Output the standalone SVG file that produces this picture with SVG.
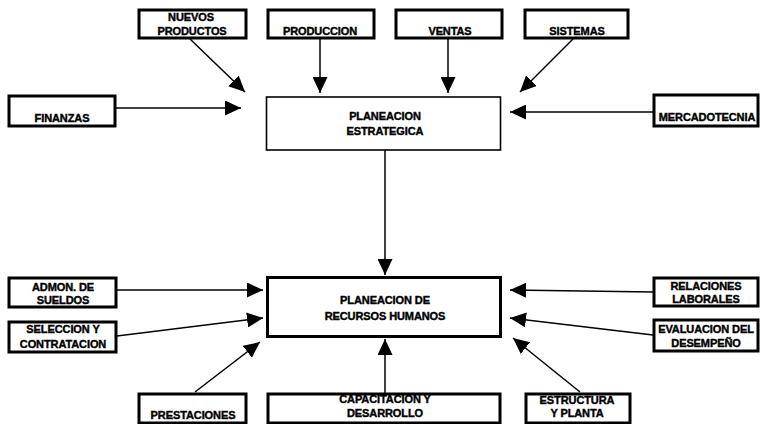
<svg xmlns="http://www.w3.org/2000/svg" width="760" height="424" viewBox="0 0 760 424">
<defs>
<style>
.bx{fill:#fff;stroke:#000;stroke-width:3}
.bxt{fill:#fff;stroke:#000;stroke-width:1.6}
.t{font-family:"Liberation Sans",Arial,Helvetica,sans-serif;font-weight:bold;font-size:11px;text-anchor:middle;fill:#000;stroke:#000;stroke-width:0.4px;letter-spacing:-0.1px}
.c{stroke:#000;stroke-width:1.5;fill:none;marker-end:url(#ah)}
</style>
<marker id="ah" markerUnits="userSpaceOnUse" markerWidth="17" markerHeight="15" refX="16" refY="7.5" orient="auto">
<path d="M0,0 L16,7.5 L0,15 z" fill="#000"/>
</marker>
</defs>
<rect width="760" height="424" fill="#fff"/>
<g id="connectors">
<line class="c" x1="190" y1="39" x2="245" y2="92"/>
<line class="c" x1="320" y1="39" x2="320" y2="93"/>
<line class="c" x1="448" y1="39" x2="448" y2="93"/>
<line class="c" x1="573" y1="39" x2="520" y2="92"/>
<line class="c" x1="116" y1="108" x2="241" y2="108"/>
<line class="c" x1="653" y1="112" x2="510" y2="112"/>
<line class="c" x1="385" y1="150" x2="385" y2="275"/>
<line class="c" x1="117" y1="290" x2="263" y2="290"/>
<line class="c" x1="117" y1="336" x2="263" y2="318"/>
<line class="c" x1="195" y1="392" x2="260" y2="342"/>
<line class="c" x1="385" y1="393" x2="385" y2="339"/>
<line class="c" x1="580" y1="392" x2="513" y2="338"/>
<line class="c" x1="653" y1="292" x2="510" y2="290"/>
<line class="c" x1="653" y1="335" x2="510" y2="318"/>
</g>
<g id="nuevos-productos"><rect class="bx" x="139" y="10" width="107" height="28"/><text class="t" x="191" y="21">NUEVOS</text><text class="t" x="192" y="35">PRODUCTOS</text></g>
<g id="produccion"><rect class="bx" x="268" y="10" width="106" height="28"/><text class="t" x="320" y="35">PRODUCCION</text></g>
<g id="ventas"><rect class="bx" x="396" y="10" width="106" height="28"/><text class="t" x="450" y="35">VENTAS</text></g>
<g id="sistemas"><rect class="bx" x="525" y="10" width="103" height="28"/><text class="t" x="577" y="35">SISTEMAS</text></g>
<g id="finanzas"><rect class="bx" x="9" y="96" width="106" height="30"/><text class="t" x="62" y="122">FINANZAS</text></g>
<g id="mercadotecnia"><rect class="bx" x="654" y="95" width="104" height="31"/><text class="t" x="707" y="121">MERCADOTECNIA</text></g>
<g id="planeacion-estrategica"><rect class="bxt" x="266.5" y="97" width="234" height="53"/><text class="t" x="385" y="120">PLANEACION</text><text class="t" x="385" y="135">ESTRATEGICA</text></g>
<g id="admon-sueldos"><rect class="bx" x="9" y="278" width="107" height="29"/><text class="t" x="63" y="291">ADMON. DE</text><text class="t" x="63" y="304">SUELDOS</text></g>
<g id="seleccion"><rect class="bx" x="9" y="322" width="107" height="30"/><text class="t" x="63" y="333">SELECCION Y</text><text class="t" x="63" y="348">CONTRATACION</text></g>
<g id="planeacion-rh"><rect class="bx" x="267.5" y="277.5" width="233" height="59"/><text class="t" x="385" y="304">PLANEACION DE</text><text class="t" x="385" y="320">RECURSOS HUMANOS</text></g>
<g id="relaciones-laborales"><rect class="bx" x="654" y="278" width="104" height="28"/><text class="t" x="706" y="290">RELACIONES</text><text class="t" x="706" y="303">LABORALES</text></g>
<g id="evaluacion-desempeno"><rect class="bx" x="654" y="320" width="104" height="31"/><text class="t" x="706" y="333">EVALUACION DEL</text><text class="t" x="706" y="347">DESEMPEÑO</text></g>
<g id="prestaciones"><rect class="bx" x="139" y="394" width="107" height="29"/><text class="t" x="193" y="419">PRESTACIONES</text></g>
<g id="capacitacion"><rect class="bx" x="268" y="394" width="232" height="29"/><text class="t" x="385" y="403">CAPACITACION Y</text><text class="t" x="385" y="417">DESARROLLO</text></g>
<g id="estructura-planta"><rect class="bx" x="526" y="394" width="104" height="29"/><text class="t" x="577" y="404">ESTRUCTURA</text><text class="t" x="577" y="417">Y PLANTA</text></g>
</svg>
